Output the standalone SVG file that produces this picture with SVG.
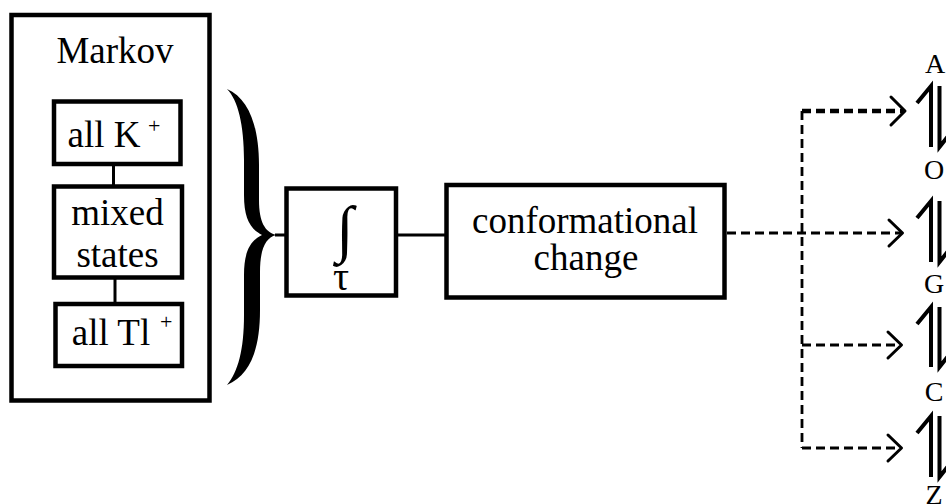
<svg xmlns="http://www.w3.org/2000/svg" width="946" height="504" viewBox="0 0 946 504">
<style>
.box{fill:none;stroke:#000;stroke-width:4.5}
.ln{fill:none;stroke:#000;stroke-width:3}
.dash{fill:none;stroke:#000;stroke-width:2.8;stroke-dasharray:9 5}
.arr{fill:none;stroke:#000;stroke-width:3;stroke-linecap:round;stroke-linejoin:round}
.hp{fill:none;stroke:#000;stroke-width:4}
text{font-family:"Liberation Serif","Times New Roman",serif;fill:#000}
.t{font-size:37px;text-anchor:middle}
.sup{font-size:22px}
.lt{font-size:28px;text-anchor:middle}
</style>
<rect width="946" height="504" fill="#fff"/>
<g id="markov">
<rect class="box" x="11.5" y="15" width="198" height="385.5"/>
<text class="t" x="115" y="63">Markov</text>
</g>
<g id="allK">
<rect class="box" x="54" y="101.5" width="126.5" height="62.5"/>
<text class="t" x="104" y="147">all K</text>
<text class="sup" x="148" y="133">+</text>
</g>
<g id="mixed">
<rect class="box" x="54" y="186.5" width="128" height="91"/>
<text class="t" x="117.5" y="225">mixed</text>
<text class="t" x="117.5" y="267">states</text>
</g>
<g id="allTl">
<rect class="box" x="55.5" y="304" width="126.5" height="62"/>
<text class="t" x="111" y="345">all Tl</text>
<text class="sup" x="160" y="329">+</text>
</g>
<g id="brace">
<path fill="#000" d="M227,89 C248,98 259,125 259,165 L259,200 C259,222 265,232 276,235 C265,238 260,250 260,272 L260,310 C260,350 250,375 227,385 C238,372 244,350 244,315 L244,275 C244,252 250,241 262,235 C250,229 244,218 244,195 L244,160 C244,125 238,100 227,89 Z"/>
</g>
<g id="integral">
<rect class="box" x="286.5" y="188.5" width="109.5" height="107"/>
<text x="345" y="249.5" font-size="63" text-anchor="middle">∫</text>
<text x="341" y="290" font-size="40" text-anchor="middle">τ</text>
</g>
<g id="conf">
<rect class="box" x="446.5" y="185" width="278" height="112.5"/>
<text class="t" x="585" y="233">conformational</text>
<text class="t" x="586" y="270">change</text>
</g>
<g id="states">
<text class="lt" x="935" y="73">A</text>
<text class="lt" x="934" y="179">O</text>
<text class="lt" x="934" y="293">G</text>
<text class="lt" x="934" y="401">C</text>
<text class="lt" x="934" y="504">Z</text>
<path class="hp" d="M931,147 L931,86 L917,103 M939.5,86 L939.5,147 L953,130"/>
<path class="hp" d="M931,262 L931,201 L917,218 M939.5,201 L939.5,262 L953,245"/>
<path class="hp" d="M931,367 L931,307 L917,324 M939.5,307 L939.5,367 L953,350"/>
<path class="hp" d="M931,477 L931,416 L917,433 M939.5,416 L939.5,477 L953,460"/>
</g>
<g id="connectors">
<line class="ln" x1="113.5" y1="164" x2="113.5" y2="186.5"/>
<line class="ln" x1="115" y1="277.5" x2="115" y2="304"/>
<line class="ln" x1="275" y1="235" x2="286.5" y2="235"/>
<line class="ln" x1="396" y1="235" x2="446.5" y2="235"/>
<line class="dash" x1="727" y1="233" x2="902" y2="233"/>
<line class="dash" x1="802" y1="111" x2="802" y2="448"/>
<line class="dash" x1="802" y1="111" x2="904" y2="111" style="stroke-width:4.5"/>
<line class="dash" x1="802" y1="345" x2="901" y2="345"/>
<line class="dash" x1="802" y1="448" x2="901" y2="448"/>
<polyline class="arr" points="891,97 905,111 891,125"/>
<polyline class="arr" points="889,220 902.5,233 889,246"/>
<polyline class="arr" points="888,332 901.5,345 888,358"/>
<polyline class="arr" points="888,435 901.5,448 888,461"/>
</g>
</svg>
